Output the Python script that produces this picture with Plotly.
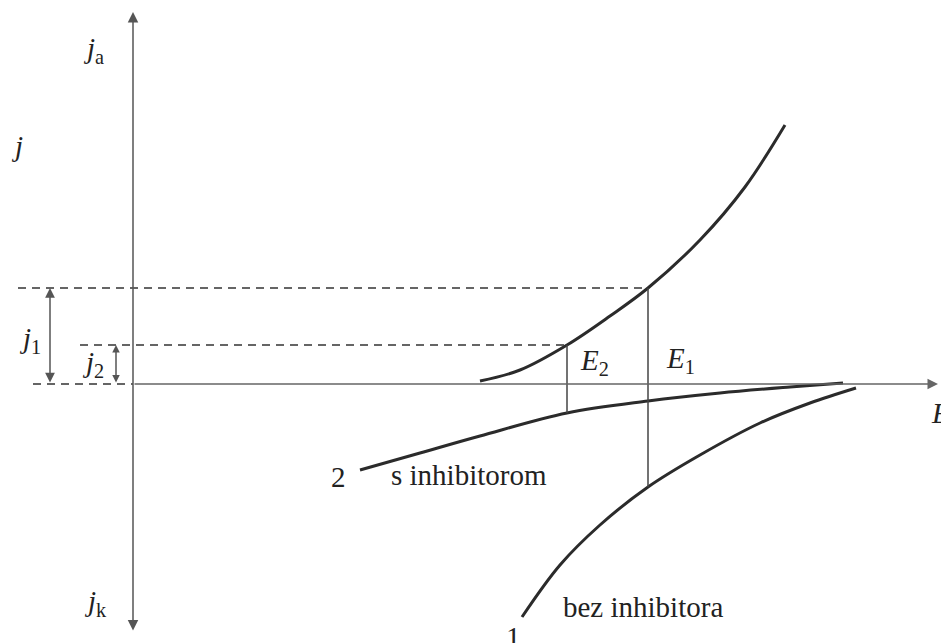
import plotly.graph_objects as go

# curves (E, j in arbitrary units, origin at axis crossing)
anodic_E = [3.47, 3.87, 4.34, 4.77, 5.15, 5.67, 6.12, 6.52]
anodic_j = [0.03, 0.14, 0.39, 0.68, 0.96, 1.44, 1.97, 2.59]

bez_E = [3.89, 4.27, 4.67, 5.15, 5.67, 6.27, 6.77, 7.23]
bez_j = [-2.33, -1.81, -1.41, -1.03, -0.71, -0.39, -0.19, -0.04]

s_inh_E = [2.27, 2.87, 3.47, 4.34, 5.15, 5.87, 6.57, 7.10]
s_inh_j = [-0.86, -0.69, -0.52, -0.29, -0.17, -0.09, -0.03, 0.01]

# corrosion potentials and currents
E1, E2 = 5.15, 4.34
j1, j2 = 0.96, 0.39
jk1, jk2 = -1.03, -0.29

# axis extents
j_top, j_bottom = 3.72, -2.48
E_right = 8.05

ink = "#2b2b2b"
font = dict(family="Liberation Serif", size=29, color="#222")

fig = go.Figure()

for xs, ys in [(anodic_E, anodic_j), (bez_E, bez_j), (s_inh_E, s_inh_j)]:
    fig.add_trace(go.Scatter(x=xs, y=ys, mode="lines", line=dict(color=ink, width=3, shape="spline"),
                             hoverinfo="skip", showlegend=False))

# dashed helper lines
for x0, x1, y in [(-1.15, E1, j1), (-0.53, E2, j2), (-1.0, 0, 0)]:
    fig.add_trace(go.Scatter(x=[x0, x1], y=[y, y], mode="lines",
                             line=dict(color="#333", width=1.5, dash="8px,6px"),
                             hoverinfo="skip", showlegend=False))

# vertical lines at E1, E2
for x, y0, y1 in [(E1, j1, jk1), (E2, j2, jk2)]:
    fig.add_trace(go.Scatter(x=[x, x], y=[y0, y1], mode="lines",
                             line=dict(color="#444", width=1.5),
                             hoverinfo="skip", showlegend=False))

arrows = [
    # j axis (both directions)
    dict(x=0, y=j_top, ax=0, ay=j_bottom, arrowside="end+start", arrowcolor="#555", arrowsize=1.4),
    # E axis
    dict(x=E_right, y=0, ax=0, ay=0, arrowside="end", arrowcolor="#666", arrowsize=1.4),
    # j1, j2 spans
    dict(x=-0.83, y=j1, ax=-0.83, ay=0, arrowside="end+start", arrowcolor="#555", arrowsize=1.3),
    dict(x=-0.17, y=j2, ax=-0.17, ay=0, arrowside="end+start", arrowcolor="#555", arrowsize=1.0),
]
for a in arrows:
    fig.add_annotation(text="", showarrow=True, xref="x", yref="y", axref="x", ayref="y",
                       arrowhead=2, arrowwidth=1.5, standoff=0, startstandoff=0,
                       startarrowhead=2, startarrowsize=a["arrowsize"], **a)

labels = [
    (-0.40, 3.34, "<i>j</i><sub>a</sub>"),
    (-1.16, 2.38, "<i>j</i>"),
    (-0.38, -2.19, "<i>j</i><sub>k</sub>"),
    (-1.03, 0.44, "<i>j</i><sub>1</sub>"),
    (-0.40, 0.20, "<i>j</i><sub>2</sub>"),
    (4.61, 0.22, "<i>E</i><sub>2</sub>"),
    (5.47, 0.24, "<i>E</i><sub>1</sub>"),
    (8.07, -0.29, "<i>E</i>"),
    (2.05, -0.93, "2"),
    (3.36, -0.91, "s inhibitorom"),
    (5.10, -2.23, "bez inhibitora"),
    (3.80, -2.53, "1"),
]
for x, y, t in labels:
    fig.add_annotation(x=x, y=y, text=t, showarrow=False, xref="x", yref="y",
                       font=font, xanchor="center", yanchor="middle")

# the page body adds an 8px offset, so the ranges are shifted to keep the origin in place
fig.update_xaxes(range=[-1.25, 8.24], visible=False)
fig.update_yaxes(range=[-2.67, 3.76], visible=False)
fig.update_layout(width=949, height=643, margin=dict(l=0, r=0, t=0, b=0),
                  plot_bgcolor="white", paper_bgcolor="white", showlegend=False)

fig.write_html("out.html")
